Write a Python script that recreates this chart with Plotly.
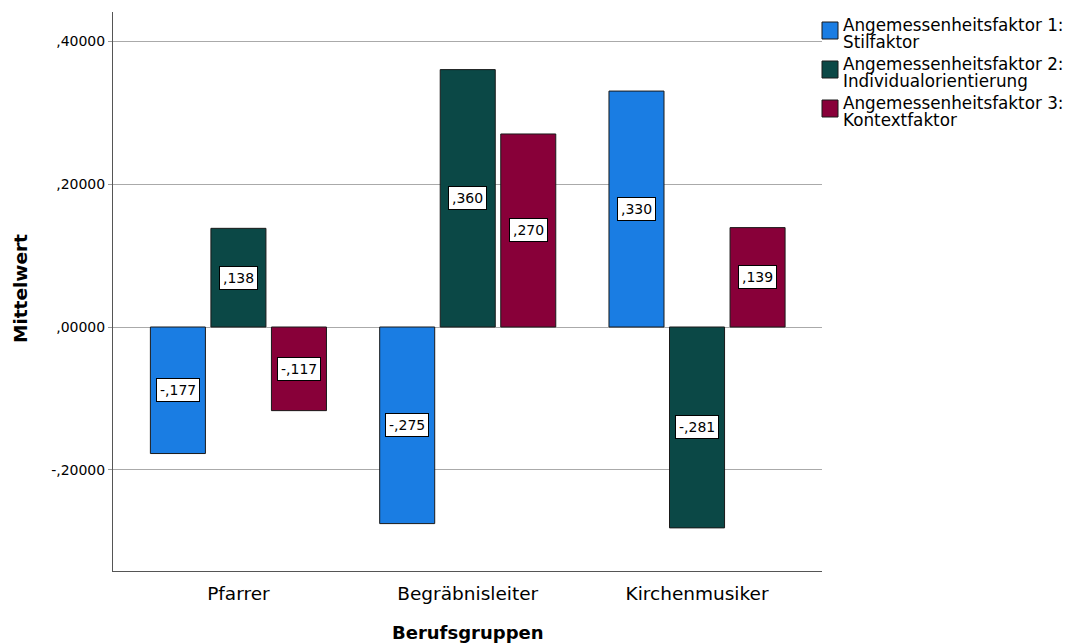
import plotly.graph_objects as go

# Berufsgruppen und Mittelwerte der drei Angemessenheitsfaktoren
categories = ["Pfarrer", "Begräbnisleiter", "Kirchenmusiker"]
factor_names = [
    ["Angemessenheitsfaktor 1:", "Stilfaktor"],
    ["Angemessenheitsfaktor 2:", "Individualorientierung"],
    ["Angemessenheitsfaktor 3:", "Kontextfaktor"],
]
factor1 = [-0.177, -0.275, 0.330]
factor2 = [0.138, 0.360, -0.281]
factor3 = [-0.117, 0.270, 0.139]
series = [factor1, factor2, factor3]
colors = ["#1a7de3", "#0b4846", "#880039"]

y_tickvals = [-0.2, 0.0, 0.2, 0.4]
y_ticktext = ["-,20000", ",00000", ",20000", ",40000"]

FONT = "DejaVu Sans"
W, H = 1067, 643
M_L, M_R, M_T, M_B = 113, 245, 12, 72
slot = 0.264
bar_w = 0.24


def fmt(v):
    s = f"{abs(v):.3f}".lstrip("0").replace(".", ",")
    return ("-" if v < 0 else "") + s


fig = go.Figure()
annotations = []
for j, vals in enumerate(series):
    xs = [i + (j - 1) * slot for i in range(len(categories))]
    fig.add_trace(go.Bar(
        x=xs, y=vals, width=bar_w,
        name=" ".join(factor_names[j]),
        marker=dict(color=colors[j], line=dict(color="#1a1a1a", width=1)),
        showlegend=False, hoverinfo="y",
    ))
    for x, v in zip(xs, vals):
        annotations.append(dict(
            x=x, y=v / 2, xref="x", yref="y", text=fmt(v), showarrow=False,
            font=dict(family=FONT, size=14, color="#000"),
            bgcolor="#ffffff", bordercolor="#000000", borderwidth=1, borderpad=3,
        ))

# Legende rechts neben dem Diagramm
plot_h = H - M_T - M_B


def py(pix):
    return (H - M_B - pix) / plot_h


shapes = []
item_top = [22, 61, 100]
for j, (l1, l2) in enumerate(factor_names):
    top = item_top[j]
    shapes.append(dict(
        type="rect", xref="paper", yref="paper",
        x0=1.0, x1=1.0 + 16 / (W - M_L - M_R), y0=py(top + 17), y1=py(top),
        fillcolor=colors[j], line=dict(color="#1a1a1a", width=1),
    ))
    for k, txt in enumerate([l1, l2]):
        annotations.append(dict(
            x=1.0 + 19 / (W - M_L - M_R), y=py(top + 3 + k * 17),
            xref="paper", yref="paper", xanchor="left", yanchor="middle",
            text=txt, showarrow=False,
            font=dict(family=FONT, size=16.8, color="#000"),
        ))

# Achsentitel
annotations.append(dict(
    x=0.5, y=py(632), xref="paper", yref="paper", text="<b>Berufsgruppen</b>",
    showarrow=False, xanchor="center", yanchor="middle",
    font=dict(family=FONT, size=18, color="#000"),
))
annotations.append(dict(
    x=-(M_L - 20) / (W - M_L - M_R), y=py(289), xref="paper", yref="paper",
    text="<b>Mittelwert</b>", showarrow=False, textangle=-90,
    xanchor="center", yanchor="middle",
    font=dict(family=FONT, size=18.5, color="#000"),
))

fig.update_layout(
    width=W, height=H,
    margin=dict(l=M_L, r=M_R, t=M_T, b=M_B, autoexpand=False),
    paper_bgcolor="#ffffff", plot_bgcolor="#ffffff",
    barmode="overlay",
    showlegend=False,
    annotations=annotations,
    shapes=shapes,
    xaxis=dict(
        range=[-0.547, 2.545], tickvals=list(range(len(categories))),
        ticktext=categories, ticks="", showgrid=False, zeroline=False,
        showline=True, linecolor="#555555", linewidth=1,
        tickfont=dict(family=FONT, size=18.5, color="#000"),
        ticklabelstandoff=6,
    ),
    yaxis=dict(
        range=[-0.3413, 0.4406], tickvals=y_tickvals, ticktext=y_ticktext,
        ticks="outside", ticklen=4, tickcolor="#999999",
        showgrid=True, gridcolor="#aaaaaa", gridwidth=1, zeroline=False,
        showline=True, linecolor="#555555", linewidth=1,
        tickfont=dict(family=FONT, size=14, color="#000"),
    ),
)

fig.write_html("out.html")
